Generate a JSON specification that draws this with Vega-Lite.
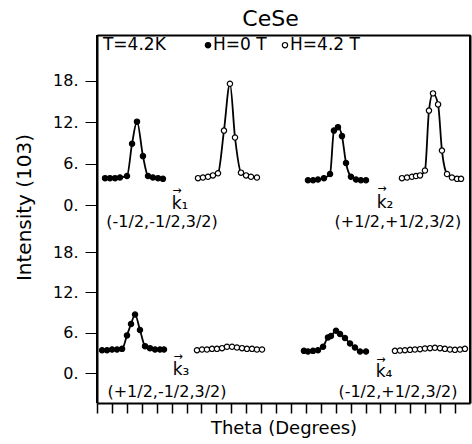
{
  "$schema": "https://vega.github.io/schema/vega-lite/v6.json",
  "padding": {"left": 14, "top": 8, "right": 1, "bottom": 2},
  "spacing": 0,
  "bounds": "flush",
  "title": {"text": "CeSe", "fontSize": 22, "font": "DejaVu Sans", "fontWeight": "normal", "anchor": "middle", "offset": 3, "dx": 28, "color": "black"},
  "config": {
    "view": {"stroke": null},
    "concat": {"spacing": 0},
    "font": "DejaVu Sans",
    "axis": {"grid": false, "domain": true, "domainColor": "black", "domainWidth": 2, "tickColor": "black", "labelColor": "black", "titleColor": "black", "labelFont": "DejaVu Sans", "titleFont": "DejaVu Sans", "labelFontSize": 15, "titleFontSize": 20, "titleFontWeight": "normal"}
  },
  "datasets": {
    "scans": [
      {"panel": "upper", "scan": "k1 H0", "field": "H=0 T", "theta": 0.54, "intensity": 3.9},
      {"panel": "upper", "scan": "k1 H0", "field": "H=0 T", "theta": 0.87, "intensity": 3.9},
      {"panel": "upper", "scan": "k1 H0", "field": "H=0 T", "theta": 1.21, "intensity": 3.9},
      {"panel": "upper", "scan": "k1 H0", "field": "H=0 T", "theta": 1.54, "intensity": 4.0},
      {"panel": "upper", "scan": "k1 H0", "field": "H=0 T", "theta": 2.01, "intensity": 4.2},
      {"panel": "upper", "scan": "k1 H0", "field": "H=0 T", "theta": 2.35, "intensity": 8.9},
      {"panel": "upper", "scan": "k1 H0", "field": "H=0 T", "theta": 2.68, "intensity": 12.1},
      {"panel": "upper", "scan": "k1 H0", "field": "H=0 T", "theta": 3.08, "intensity": 7.1},
      {"panel": "upper", "scan": "k1 H0", "field": "H=0 T", "theta": 3.42, "intensity": 4.2},
      {"panel": "upper", "scan": "k1 H0", "field": "H=0 T", "theta": 3.75, "intensity": 4.0},
      {"panel": "upper", "scan": "k1 H0", "field": "H=0 T", "theta": 4.09, "intensity": 3.9},
      {"panel": "upper", "scan": "k1 H0", "field": "H=0 T", "theta": 4.42, "intensity": 3.8},

      {"panel": "upper", "scan": "k1 H4", "field": "H=4.2 T", "theta": 6.77, "intensity": 3.9},
      {"panel": "upper", "scan": "k1 H4", "field": "H=4.2 T", "theta": 7.10, "intensity": 4.0},
      {"panel": "upper", "scan": "k1 H4", "field": "H=4.2 T", "theta": 7.44, "intensity": 4.1},
      {"panel": "upper", "scan": "k1 H4", "field": "H=4.2 T", "theta": 7.77, "intensity": 4.3},
      {"panel": "upper", "scan": "k1 H4", "field": "H=4.2 T", "theta": 8.11, "intensity": 4.6},
      {"panel": "upper", "scan": "k1 H4", "field": "H=4.2 T", "theta": 8.51, "intensity": 10.8},
      {"panel": "upper", "scan": "k1 H4", "field": "H=4.2 T", "theta": 8.91, "intensity": 17.6},
      {"panel": "upper", "scan": "k1 H4", "field": "H=4.2 T", "theta": 9.25, "intensity": 9.8},
      {"panel": "upper", "scan": "k1 H4", "field": "H=4.2 T", "theta": 9.65, "intensity": 4.7},
      {"panel": "upper", "scan": "k1 H4", "field": "H=4.2 T", "theta": 9.99, "intensity": 4.3},
      {"panel": "upper", "scan": "k1 H4", "field": "H=4.2 T", "theta": 10.32, "intensity": 4.1},
      {"panel": "upper", "scan": "k1 H4", "field": "H=4.2 T", "theta": 10.72, "intensity": 4.0},

      {"panel": "upper", "scan": "k2 H0", "field": "H=0 T", "theta": 14.14, "intensity": 3.6},
      {"panel": "upper", "scan": "k2 H0", "field": "H=0 T", "theta": 14.48, "intensity": 3.6},
      {"panel": "upper", "scan": "k2 H0", "field": "H=0 T", "theta": 14.81, "intensity": 3.7},
      {"panel": "upper", "scan": "k2 H0", "field": "H=0 T", "theta": 15.21, "intensity": 3.9},
      {"panel": "upper", "scan": "k2 H0", "field": "H=0 T", "theta": 15.62, "intensity": 4.5},
      {"panel": "upper", "scan": "k2 H0", "field": "H=0 T", "theta": 15.88, "intensity": 10.8},
      {"panel": "upper", "scan": "k2 H0", "field": "H=0 T", "theta": 16.15, "intensity": 11.3},
      {"panel": "upper", "scan": "k2 H0", "field": "H=0 T", "theta": 16.42, "intensity": 10.0},
      {"panel": "upper", "scan": "k2 H0", "field": "H=0 T", "theta": 16.69, "intensity": 6.1},
      {"panel": "upper", "scan": "k2 H0", "field": "H=0 T", "theta": 17.02, "intensity": 4.1},
      {"panel": "upper", "scan": "k2 H0", "field": "H=0 T", "theta": 17.36, "intensity": 3.7},
      {"panel": "upper", "scan": "k2 H0", "field": "H=0 T", "theta": 17.69, "intensity": 3.6},
      {"panel": "upper", "scan": "k2 H0", "field": "H=0 T", "theta": 18.03, "intensity": 3.6},

      {"panel": "upper", "scan": "k2 H4", "field": "H=4.2 T", "theta": 20.44, "intensity": 3.9},
      {"panel": "upper", "scan": "k2 H4", "field": "H=4.2 T", "theta": 20.78, "intensity": 4.0},
      {"panel": "upper", "scan": "k2 H4", "field": "H=4.2 T", "theta": 21.11, "intensity": 4.1},
      {"panel": "upper", "scan": "k2 H4", "field": "H=4.2 T", "theta": 21.38, "intensity": 4.2},
      {"panel": "upper", "scan": "k2 H4", "field": "H=4.2 T", "theta": 21.65, "intensity": 4.3},
      {"panel": "upper", "scan": "k2 H4", "field": "H=4.2 T", "theta": 21.98, "intensity": 5.0},
      {"panel": "upper", "scan": "k2 H4", "field": "H=4.2 T", "theta": 22.25, "intensity": 13.7},
      {"panel": "upper", "scan": "k2 H4", "field": "H=4.2 T", "theta": 22.52, "intensity": 16.2},
      {"panel": "upper", "scan": "k2 H4", "field": "H=4.2 T", "theta": 22.86, "intensity": 14.6},
      {"panel": "upper", "scan": "k2 H4", "field": "H=4.2 T", "theta": 23.12, "intensity": 7.9},
      {"panel": "upper", "scan": "k2 H4", "field": "H=4.2 T", "theta": 23.46, "intensity": 4.5},
      {"panel": "upper", "scan": "k2 H4", "field": "H=4.2 T", "theta": 23.79, "intensity": 4.0},
      {"panel": "upper", "scan": "k2 H4", "field": "H=4.2 T", "theta": 24.13, "intensity": 3.8},
      {"panel": "upper", "scan": "k2 H4", "field": "H=4.2 T", "theta": 24.40, "intensity": 3.8},

      {"panel": "lower", "scan": "k3 H0", "field": "H=0 T", "theta": 0.34, "intensity": 3.4},
      {"panel": "lower", "scan": "k3 H0", "field": "H=0 T", "theta": 0.67, "intensity": 3.4},
      {"panel": "lower", "scan": "k3 H0", "field": "H=0 T", "theta": 1.01, "intensity": 3.5},
      {"panel": "lower", "scan": "k3 H0", "field": "H=0 T", "theta": 1.34, "intensity": 3.5},
      {"panel": "lower", "scan": "k3 H0", "field": "H=0 T", "theta": 1.68, "intensity": 3.6},
      {"panel": "lower", "scan": "k3 H0", "field": "H=0 T", "theta": 2.01, "intensity": 5.6},
      {"panel": "lower", "scan": "k3 H0", "field": "H=0 T", "theta": 2.28, "intensity": 7.3},
      {"panel": "lower", "scan": "k3 H0", "field": "H=0 T", "theta": 2.55, "intensity": 8.7},
      {"panel": "lower", "scan": "k3 H0", "field": "H=0 T", "theta": 2.88, "intensity": 6.4},
      {"panel": "lower", "scan": "k3 H0", "field": "H=0 T", "theta": 3.22, "intensity": 4.0},
      {"panel": "lower", "scan": "k3 H0", "field": "H=0 T", "theta": 3.55, "intensity": 3.7},
      {"panel": "lower", "scan": "k3 H0", "field": "H=0 T", "theta": 3.89, "intensity": 3.5},
      {"panel": "lower", "scan": "k3 H0", "field": "H=0 T", "theta": 4.22, "intensity": 3.5},
      {"panel": "lower", "scan": "k3 H0", "field": "H=0 T", "theta": 4.49, "intensity": 3.5},

      {"panel": "lower", "scan": "k3 H4", "field": "H=4.2 T", "theta": 6.70, "intensity": 3.4},
      {"panel": "lower", "scan": "k3 H4", "field": "H=4.2 T", "theta": 7.04, "intensity": 3.5},
      {"panel": "lower", "scan": "k3 H4", "field": "H=4.2 T", "theta": 7.37, "intensity": 3.5},
      {"panel": "lower", "scan": "k3 H4", "field": "H=4.2 T", "theta": 7.71, "intensity": 3.6},
      {"panel": "lower", "scan": "k3 H4", "field": "H=4.2 T", "theta": 8.04, "intensity": 3.6},
      {"panel": "lower", "scan": "k3 H4", "field": "H=4.2 T", "theta": 8.38, "intensity": 3.7},
      {"panel": "lower", "scan": "k3 H4", "field": "H=4.2 T", "theta": 8.71, "intensity": 3.9},
      {"panel": "lower", "scan": "k3 H4", "field": "H=4.2 T", "theta": 9.05, "intensity": 3.9},
      {"panel": "lower", "scan": "k3 H4", "field": "H=4.2 T", "theta": 9.38, "intensity": 3.8},
      {"panel": "lower", "scan": "k3 H4", "field": "H=4.2 T", "theta": 9.72, "intensity": 3.7},
      {"panel": "lower", "scan": "k3 H4", "field": "H=4.2 T", "theta": 10.05, "intensity": 3.6},
      {"panel": "lower", "scan": "k3 H4", "field": "H=4.2 T", "theta": 10.39, "intensity": 3.6},
      {"panel": "lower", "scan": "k3 H4", "field": "H=4.2 T", "theta": 10.72, "intensity": 3.5},
      {"panel": "lower", "scan": "k3 H4", "field": "H=4.2 T", "theta": 11.06, "intensity": 3.5},

      {"panel": "lower", "scan": "k4 H0", "field": "H=0 T", "theta": 13.87, "intensity": 3.3},
      {"panel": "lower", "scan": "k4 H0", "field": "H=0 T", "theta": 14.14, "intensity": 3.2},
      {"panel": "lower", "scan": "k4 H0", "field": "H=0 T", "theta": 14.48, "intensity": 3.3},
      {"panel": "lower", "scan": "k4 H0", "field": "H=0 T", "theta": 14.81, "intensity": 3.4},
      {"panel": "lower", "scan": "k4 H0", "field": "H=0 T", "theta": 15.15, "intensity": 3.9},
      {"panel": "lower", "scan": "k4 H0", "field": "H=0 T", "theta": 15.48, "intensity": 5.3},
      {"panel": "lower", "scan": "k4 H0", "field": "H=0 T", "theta": 15.68, "intensity": 5.5},
      {"panel": "lower", "scan": "k4 H0", "field": "H=0 T", "theta": 16.02, "intensity": 6.3},
      {"panel": "lower", "scan": "k4 H0", "field": "H=0 T", "theta": 16.29, "intensity": 5.8},
      {"panel": "lower", "scan": "k4 H0", "field": "H=0 T", "theta": 16.62, "intensity": 5.2},
      {"panel": "lower", "scan": "k4 H0", "field": "H=0 T", "theta": 16.96, "intensity": 4.4},
      {"panel": "lower", "scan": "k4 H0", "field": "H=0 T", "theta": 17.29, "intensity": 3.8},
      {"panel": "lower", "scan": "k4 H0", "field": "H=0 T", "theta": 17.63, "intensity": 3.2},
      {"panel": "lower", "scan": "k4 H0", "field": "H=0 T", "theta": 18.03, "intensity": 3.2},

      {"panel": "lower", "scan": "k4 H4", "field": "H=4.2 T", "theta": 19.97, "intensity": 3.3},
      {"panel": "lower", "scan": "k4 H4", "field": "H=4.2 T", "theta": 20.31, "intensity": 3.35},
      {"panel": "lower", "scan": "k4 H4", "field": "H=4.2 T", "theta": 20.64, "intensity": 3.4},
      {"panel": "lower", "scan": "k4 H4", "field": "H=4.2 T", "theta": 20.98, "intensity": 3.45},
      {"panel": "lower", "scan": "k4 H4", "field": "H=4.2 T", "theta": 21.31, "intensity": 3.5},
      {"panel": "lower", "scan": "k4 H4", "field": "H=4.2 T", "theta": 21.65, "intensity": 3.55},
      {"panel": "lower", "scan": "k4 H4", "field": "H=4.2 T", "theta": 21.98, "intensity": 3.65},
      {"panel": "lower", "scan": "k4 H4", "field": "H=4.2 T", "theta": 22.32, "intensity": 3.7},
      {"panel": "lower", "scan": "k4 H4", "field": "H=4.2 T", "theta": 22.65, "intensity": 3.75},
      {"panel": "lower", "scan": "k4 H4", "field": "H=4.2 T", "theta": 22.99, "intensity": 3.7},
      {"panel": "lower", "scan": "k4 H4", "field": "H=4.2 T", "theta": 23.32, "intensity": 3.6},
      {"panel": "lower", "scan": "k4 H4", "field": "H=4.2 T", "theta": 23.66, "intensity": 3.5},
      {"panel": "lower", "scan": "k4 H4", "field": "H=4.2 T", "theta": 23.99, "intensity": 3.45},
      {"panel": "lower", "scan": "k4 H4", "field": "H=4.2 T", "theta": 24.33, "intensity": 3.5},
      {"panel": "lower", "scan": "k4 H4", "field": "H=4.2 T", "theta": 24.66, "intensity": 3.6}
    ],
    "notes": [
      {"panel": "upper", "kind": "vector", "theta": 5.56, "intensity": 0.15, "text": "k₁"},
      {"panel": "upper", "kind": "arrow", "theta": 5.36, "intensity": 2.03, "text": "→"},
      {"panel": "upper", "kind": "index", "theta": 4.36, "intensity": -2.47, "text": "(-1/2,-1/2,3/2)"},
      {"panel": "upper", "kind": "vector", "theta": 19.3, "intensity": 0.29, "text": "k₂"},
      {"panel": "upper", "kind": "arrow", "theta": 19.1, "intensity": 2.3, "text": "→"},
      {"panel": "upper", "kind": "index", "theta": 20.17, "intensity": -2.47, "text": "(+1/2,+1/2,3/2)"},
      {"panel": "lower", "kind": "vector", "theta": 5.63, "intensity": 0.45, "text": "k₃"},
      {"panel": "lower", "kind": "arrow", "theta": 5.43, "intensity": 2.38, "text": "→"},
      {"panel": "lower", "kind": "index", "theta": 4.69, "intensity": -2.83, "text": "(+1/2,-1/2,3/2)"},
      {"panel": "lower", "kind": "vector", "theta": 19.24, "intensity": 0.15, "text": "k₄"},
      {"panel": "lower", "kind": "arrow", "theta": 19.03, "intensity": 1.93, "text": "→"},
      {"panel": "lower", "kind": "index", "theta": 20.17, "intensity": -2.83, "text": "(-1/2,+1/2,3/2)"}
    ],
    "legendText": [
      {"theta": 0.4, "intensity": 23.2, "text": "T=4.2K"},
      {"theta": 7.77, "intensity": 23.2, "text": "H=0 T"},
      {"theta": 12.94, "intensity": 23.2, "text": "H=4.2 T"}
    ],
    "legendPoints": [
      {"theta": 7.44, "intensity": 23.2, "field": "H=0 T"},
      {"theta": 12.6, "intensity": 23.2, "field": "H=4.2 T"}
    ],
    "frame": [
      {"side": "left", "theta": 0},
      {"side": "right", "theta": 25}
    ]
  },
  "vconcat": [
    {
      "width": 373,
      "height": 202,
      "resolve": {"axis": {"y": "independent"}},
      "layer": [
        {
          "data": {"name": "frame"},
          "mark": {"type": "rule", "color": "black", "strokeWidth": 2},
          "encoding": {
            "x": {"field": "theta", "type": "quantitative", "scale": {"domain": [0, 25], "nice": false, "zero": false}, "axis": {"orient": "top", "labels": false, "ticks": false, "title": null, "domain": true}}
          }
        },
        {
          "data": {"name": "scans"},
          "transform": [{"filter": "datum.panel === 'upper'"}],
          "mark": {"type": "line", "color": "black", "strokeWidth": 1.8, "interpolate": "monotone"},
          "encoding": {
            "x": {"field": "theta", "type": "quantitative", "axis": {"orient": "top", "labels": false, "ticks": false, "title": null, "domain": true}},
            "y": {"field": "intensity", "type": "quantitative", "scale": {"domain": [-4.64, 24.67], "nice": false, "zero": false}, "axis": {"orient": "left", "values": [0, 6, 12, 18], "labelExpr": "datum.value + '.'", "tickSize": 12, "labelPadding": 7, "labelFontSize": 16, "title": "Intensity (103)", "titleX": -73, "titleY": 172, "titleBaseline": "middle", "titleAlign": "center", "titleAngle": -90}},
            "detail": {"field": "scan"}
          }
        },
        {
          "data": {"name": "scans"},
          "transform": [{"filter": "datum.panel === 'upper'"}],
          "mark": {"type": "point", "shape": "circle", "filled": true, "stroke": "black", "strokeWidth": 1.2, "size": 28, "opacity": 1},
          "encoding": {
            "x": {"field": "theta", "type": "quantitative", "axis": {"orient": "top", "labels": false, "ticks": false, "title": null, "domain": true}},
            "y": {"field": "intensity", "type": "quantitative", "axis": {"orient": "right", "labels": false, "ticks": false, "title": null, "domain": true}},
            "fill": {"field": "field", "type": "nominal", "scale": {"domain": ["H=0 T", "H=4.2 T"], "range": ["black", "white"]}, "legend": null}
          }
        },
        {
          "data": {"name": "legendPoints"},
          "mark": {"type": "point", "shape": "circle", "filled": true, "stroke": "black", "strokeWidth": 1.2, "size": 28, "opacity": 1},
          "encoding": {
            "x": {"field": "theta", "type": "quantitative", "axis": {"orient": "top", "labels": false, "ticks": false, "title": null, "domain": true}},
            "y": {"field": "intensity", "type": "quantitative", "axis": null},
            "fill": {"field": "field", "type": "nominal", "scale": {"domain": ["H=0 T", "H=4.2 T"], "range": ["black", "white"]}, "legend": null}
          }
        },
        {
          "data": {"name": "legendText"},
          "mark": {"type": "text", "align": "left", "baseline": "middle", "fontSize": 17, "color": "black"},
          "encoding": {
            "x": {"field": "theta", "type": "quantitative", "axis": {"orient": "top", "labels": false, "ticks": false, "title": null, "domain": true}},
            "y": {"field": "intensity", "type": "quantitative", "axis": null},
            "text": {"field": "text"}
          }
        },
        {
          "data": {"name": "notes"},
          "transform": [{"filter": "datum.panel === 'upper' && datum.kind === 'vector'"}],
          "mark": {"type": "text", "align": "center", "baseline": "middle", "fontSize": 17, "color": "black"},
          "encoding": {
            "x": {"field": "theta", "type": "quantitative", "axis": {"orient": "top", "labels": false, "ticks": false, "title": null, "domain": true}},
            "y": {"field": "intensity", "type": "quantitative", "axis": null},
            "text": {"field": "text"}
          }
        },
        {
          "data": {"name": "notes"},
          "transform": [{"filter": "datum.panel === 'upper' && datum.kind === 'arrow'"}],
          "mark": {"type": "text", "align": "center", "baseline": "middle", "fontSize": 11, "color": "black"},
          "encoding": {
            "x": {"field": "theta", "type": "quantitative", "axis": {"orient": "top", "labels": false, "ticks": false, "title": null, "domain": true}},
            "y": {"field": "intensity", "type": "quantitative", "axis": null},
            "text": {"field": "text"}
          }
        },
        {
          "data": {"name": "notes"},
          "transform": [{"filter": "datum.panel === 'upper' && datum.kind === 'index'"}],
          "mark": {"type": "text", "align": "center", "baseline": "middle", "fontSize": 16, "color": "black"},
          "encoding": {
            "x": {"field": "theta", "type": "quantitative", "axis": {"orient": "top", "labels": false, "ticks": false, "title": null, "domain": true}},
            "y": {"field": "intensity", "type": "quantitative", "axis": null},
            "text": {"field": "text"}
          }
        }
      ]
    },
    {
      "width": 373,
      "height": 166,
      "resolve": {"axis": {"y": "independent"}},
      "layer": [
        {
          "data": {"name": "frame"},
          "mark": {"type": "rule", "color": "black", "strokeWidth": 2},
          "encoding": {
            "x": {"field": "theta", "type": "quantitative", "scale": {"domain": [0, 25], "nice": false, "zero": false}, "axis": {"orient": "bottom", "labels": false, "values": [0, 1, 2, 3, 4, 5, 6, 7, 8, 9, 10, 11, 12, 13, 14, 15, 16, 17, 18, 19, 20, 21, 22, 23, 24], "tickSize": 10, "tickWidth": 1.5, "titlePadding": 6, "title": "Theta (Degrees)", "titleFontSize": 18, "domain": true}}
          }
        },
        {
          "data": {"name": "scans"},
          "transform": [{"filter": "datum.panel === 'lower'"}],
          "mark": {"type": "line", "color": "black", "strokeWidth": 1.8, "interpolate": "monotone"},
          "encoding": {
            "x": {"field": "theta", "type": "quantitative", "axis": {"orient": "bottom", "labels": false, "values": [0, 1, 2, 3, 4, 5, 6, 7, 8, 9, 10, 11, 12, 13, 14, 15, 16, 17, 18, 19, 20, 21, 22, 23, 24], "tickSize": 10, "tickWidth": 1.5, "titlePadding": 6, "title": "Theta (Degrees)", "titleFontSize": 18, "domain": true}},
            "y": {"field": "intensity", "type": "quantitative", "scale": {"domain": [-4.46, 20.24], "nice": false, "zero": false}, "axis": {"orient": "left", "values": [0, 6, 12, 18], "labelExpr": "datum.value + '.'", "tickSize": 12, "labelPadding": 7, "labelFontSize": 16, "title": null}},
            "detail": {"field": "scan"}
          }
        },
        {
          "data": {"name": "scans"},
          "transform": [{"filter": "datum.panel === 'lower'"}],
          "mark": {"type": "point", "shape": "circle", "filled": true, "stroke": "black", "strokeWidth": 1.2, "size": 28, "opacity": 1},
          "encoding": {
            "x": {"field": "theta", "type": "quantitative", "axis": {"orient": "bottom", "labels": false, "values": [0, 1, 2, 3, 4, 5, 6, 7, 8, 9, 10, 11, 12, 13, 14, 15, 16, 17, 18, 19, 20, 21, 22, 23, 24], "tickSize": 10, "tickWidth": 1.5, "titlePadding": 6, "title": "Theta (Degrees)", "titleFontSize": 18, "domain": true}},
            "y": {"field": "intensity", "type": "quantitative", "axis": {"orient": "right", "labels": false, "ticks": false, "title": null, "domain": true}},
            "fill": {"field": "field", "type": "nominal", "scale": {"domain": ["H=0 T", "H=4.2 T"], "range": ["black", "white"]}, "legend": null}
          }
        },
        {
          "data": {"name": "notes"},
          "transform": [{"filter": "datum.panel === 'lower' && datum.kind === 'vector'"}],
          "mark": {"type": "text", "align": "center", "baseline": "middle", "fontSize": 17, "color": "black"},
          "encoding": {
            "x": {"field": "theta", "type": "quantitative", "axis": {"orient": "bottom", "labels": false, "values": [0, 1, 2, 3, 4, 5, 6, 7, 8, 9, 10, 11, 12, 13, 14, 15, 16, 17, 18, 19, 20, 21, 22, 23, 24], "tickSize": 10, "tickWidth": 1.5, "titlePadding": 6, "title": "Theta (Degrees)", "titleFontSize": 18, "domain": true}},
            "y": {"field": "intensity", "type": "quantitative", "axis": null},
            "text": {"field": "text"}
          }
        },
        {
          "data": {"name": "notes"},
          "transform": [{"filter": "datum.panel === 'lower' && datum.kind === 'arrow'"}],
          "mark": {"type": "text", "align": "center", "baseline": "middle", "fontSize": 11, "color": "black"},
          "encoding": {
            "x": {"field": "theta", "type": "quantitative", "axis": {"orient": "bottom", "labels": false, "values": [0, 1, 2, 3, 4, 5, 6, 7, 8, 9, 10, 11, 12, 13, 14, 15, 16, 17, 18, 19, 20, 21, 22, 23, 24], "tickSize": 10, "tickWidth": 1.5, "titlePadding": 6, "title": "Theta (Degrees)", "titleFontSize": 18, "domain": true}},
            "y": {"field": "intensity", "type": "quantitative", "axis": null},
            "text": {"field": "text"}
          }
        },
        {
          "data": {"name": "notes"},
          "transform": [{"filter": "datum.panel === 'lower' && datum.kind === 'index'"}],
          "mark": {"type": "text", "align": "center", "baseline": "middle", "fontSize": 16, "color": "black"},
          "encoding": {
            "x": {"field": "theta", "type": "quantitative", "axis": {"orient": "bottom", "labels": false, "values": [0, 1, 2, 3, 4, 5, 6, 7, 8, 9, 10, 11, 12, 13, 14, 15, 16, 17, 18, 19, 20, 21, 22, 23, 24], "tickSize": 10, "tickWidth": 1.5, "titlePadding": 6, "title": "Theta (Degrees)", "titleFontSize": 18, "domain": true}},
            "y": {"field": "intensity", "type": "quantitative", "axis": null},
            "text": {"field": "text"}
          }
        }
      ]
    }
  ]
}
